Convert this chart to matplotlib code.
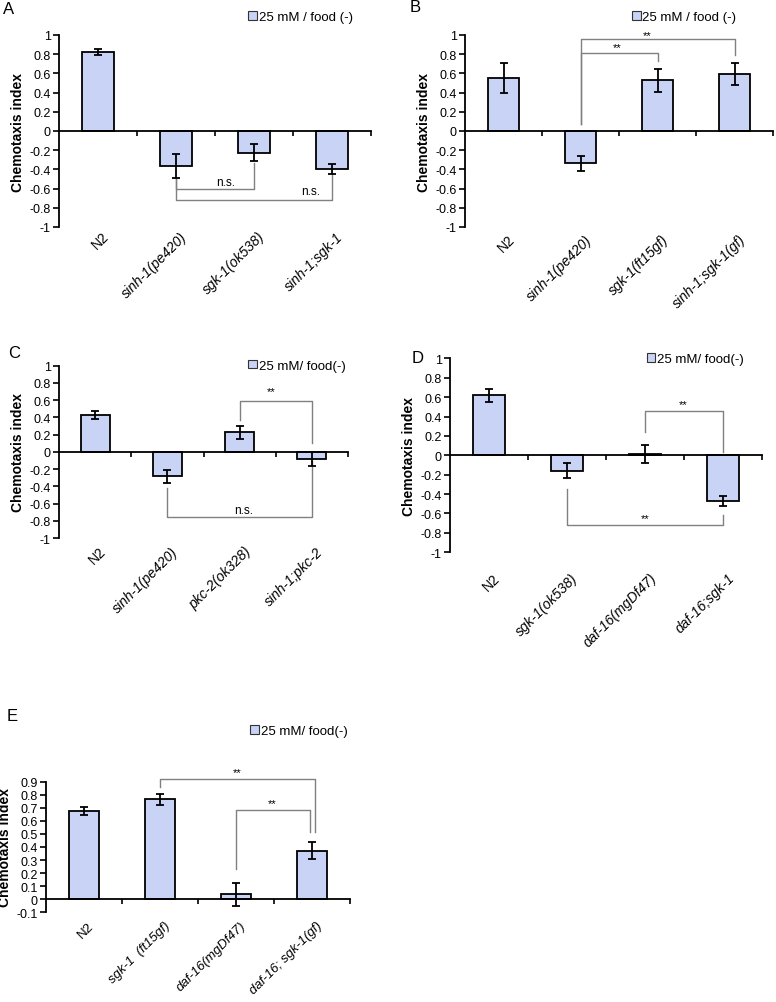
import matplotlib
matplotlib.use('Agg')
import matplotlib.pyplot as plt
from matplotlib.patches import Patch
from matplotlib import transforms as mtrans
import numpy as np

plt.rcParams['font.family'] = ['Liberation Sans', 'DejaVu Sans']

# ---------------- data ----------------
a_labels = ['N2', 'sinh-1(pe420)', 'sgk-1(ok538)', 'sinh-1;sgk-1']
a_values = [0.826, -0.365, -0.226, -0.40]
a_errors = [0.031, 0.125, 0.087, 0.052]

b_labels = ['N2', 'sinh-1(pe420)', 'sgk-1(ft15gf)', 'sinh-1;sgk-1(gf)']
b_values = [0.555, -0.337, 0.531, 0.594]
b_errors = [0.156, 0.078, 0.12, 0.113]

c_labels = ['N2', 'sinh-1(pe420)', 'pkc-2(ok328)', 'sinh-1;pkc-2']
c_values = [0.432, -0.282, 0.228, -0.081]
c_errors = [0.045, 0.077, 0.074, 0.079]

d_labels = ['N2', 'sgk-1(ok538)', 'daf-16(mgDf47)', 'daf-16;sgk-1']
d_values = [0.619, -0.158, 0.015, -0.474]
d_errors = [0.069, 0.074, 0.09, 0.053]

e_labels = ['N2', 'sgk-1  (ft15gf)', 'daf-16(mgDf47)', 'daf-16; sgk-1(gf)']
e_values = [0.675, 0.765, 0.038, 0.373]
e_errors = [0.032, 0.041, 0.09, 0.066]

legend_ab = '25 mM / food (-)'
legend_cde = '25 mM/ food(-)'

# significance brackets: (x_left, x_right, y_bar, y_left_end, y_right_end, text, text_x, text_y)
a_brackets = [(1, 2, -0.60, -0.49, -0.33, 'n.s.', 1.64, -0.53),
              (1, 3, -0.715, -0.49, -0.434, 'n.s.', 2.72, -0.625)]
b_brackets = [(1, 3, 0.955, 0.07, 0.79, '**', 1.86, 1.0),
              (1, 2, 0.816, 0.07, 0.73, '**', 1.47, 0.87)]
c_brackets = [(2, 3, 0.595, 0.375, 0.097, '**', 2.44, 0.70),
              (1, 3, -0.753, -0.417, -0.108, 'n.s.', 2.05, -0.67)]
d_brackets = [(2, 3, 0.457, 0.24, 0.034, '**', 2.49, 0.53),
              (1, 3, -0.72, -0.344, -0.62, '**', 2.0, -0.65)]
e_brackets = [(1, 3.04, 0.923, 0.86, 0.515, '**', 2.01, 0.975),
              (2, 2.97, 0.686, 0.235, 0.515, '**', 2.47, 0.74)]

BAR_COLOR = '#C8D3F6'
GRAY = '#808080'

fig = plt.figure(figsize=(7.76, 10.03), dpi=100)
W, H = 776.0, 1003.0


def add_axes_px(x0, x1, ytop, ybot):
    return fig.add_axes([x0 / W, 1 - ybot / H, (x1 - x0) / W, (ybot - ytop) / H])


def fmt_tick(v):
    v = 0.0 if abs(v) < 1e-9 else v
    return f'{v:g}'


def draw_panel(ax, labels, values, errors, ylim, yticks, pad_px, brackets,
               legend_text, legend_anchor, label_size=10):
    x = np.arange(len(labels))
    ax.bar(x, values, width=0.4, color=BAR_COLOR, edgecolor='black',
           linewidth=1.3, zorder=2)
    ax.errorbar(x, values, yerr=errors, fmt='none', ecolor='black',
                elinewidth=1.3, capsize=3.2, capthick=1.3, zorder=3)
    ax.set_xlim(-0.5, len(labels) - 0.5)
    ax.set_ylim(*ylim)
    ax.set_yticks(yticks)
    ax.set_yticklabels([fmt_tick(v) for v in yticks], fontsize=9)
    ax.tick_params(axis='y', direction='out', length=4, width=1.2, pad=2)
    for s in ['top', 'right']:
        ax.spines[s].set_visible(False)
    ax.spines['left'].set_linewidth(1.3)
    ax.spines['bottom'].set_position(('data', 0))
    ax.spines['bottom'].set_linewidth(1.3)
    ax.set_xticks(np.arange(len(labels)) + 0.5)
    ax.set_xticklabels([])
    ax.tick_params(axis='x', direction='out', length=3.5, width=1.2)
    ax.set_ylabel('Chemotaxis index', fontsize=10, fontweight='bold', labelpad=3)

    base = mtrans.blended_transform_factory(ax.transData, ax.transAxes)
    for i, lab in enumerate(labels):
        tr = mtrans.offset_copy(base, fig=fig, x=4, y=-pad_px, units='dots')
        ax.text(i, 0, lab, transform=tr, rotation=45, rotation_mode='anchor',
                ha='right', va='top', fontsize=label_size,
                fontstyle='normal' if lab == 'N2' else 'italic')

    for (xl, xr, yb, yl, yr, txt, tx, ty) in brackets:
        ax.plot([xl, xl, xr, xr], [yl, yb, yb, yr], color=GRAY, lw=1.0,
                zorder=1, clip_on=False)
        ax.text(tx, ty, txt, ha='center', va='center',
                fontsize=8.5 if txt == 'n.s.' else 8, clip_on=False)

    ax.legend(handles=[Patch(facecolor=BAR_COLOR, edgecolor='#333333',
                             linewidth=0.8)],
              labels=[legend_text], loc='center left',
              bbox_to_anchor=legend_anchor, frameon=False, handlelength=0.65,
              handleheight=0.65, handletextpad=0.15, borderpad=0,
              borderaxespad=0, fontsize=9.5)


ticks_full = np.round(np.arange(-1, 1.0001, 0.2), 1)
ticks_e = np.round(np.arange(-0.1, 0.9001, 0.1), 1)

axA = add_axes_px(59, 371, 36, 228)
draw_panel(axA, a_labels, a_values, a_errors, (-1, 1), ticks_full, 2,
           a_brackets, legend_ab, (0.606, 1.094))

axB = add_axes_px(465, 773, 36, 228)
draw_panel(axB, b_labels, b_values, b_errors, (-1, 1), ticks_full, 5,
           b_brackets, legend_ab, (0.542, 1.094))

axC = add_axes_px(59, 348, 366.7, 539)
draw_panel(axC, c_labels, c_values, c_errors, (-1, 1), ticks_full, 6,
           c_brackets, legend_cde, (0.654, 1.0))

axD = add_axes_px(450, 762, 359.3, 553.3)
draw_panel(axD, d_labels, d_values, d_errors, (-1, 1), ticks_full, 18,
           d_brackets, legend_cde, (0.63, 0.996))

axE = add_axes_px(46, 350, 782.7, 913.3)
draw_panel(axE, e_labels, e_values, e_errors, (-0.1, 0.9), ticks_e, 7,
           e_brackets, legend_cde, (0.671, 1.39), label_size=9.5)

for letter, px, py in [('A', 3, 10), ('B', 410, 8), ('C', 8, 354),
                       ('D', 412, 359), ('E', 7, 717)]:
    fig.text(px / W, 1 - py / H, letter, fontsize=12, ha='left', va='center')

fig.savefig('out.png', dpi=100)
